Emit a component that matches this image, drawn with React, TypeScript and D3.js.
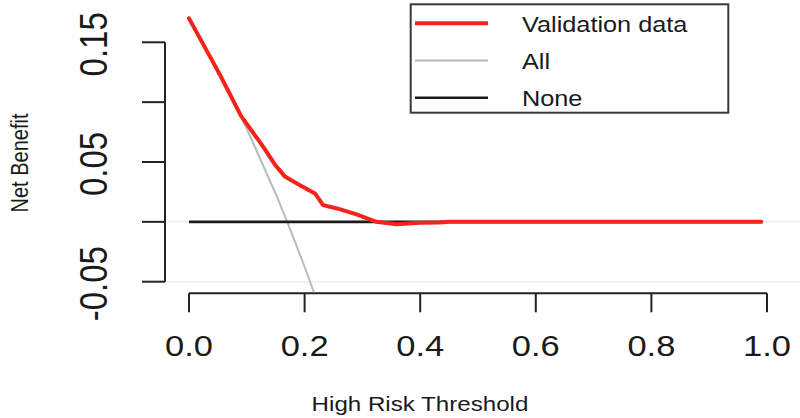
import React from "react";
import * as d3 from "d3";

const thresholds = [0, 0.054, 0.09, 0.1285, 0.149, 0.166, 0.192, 0.218, 0.232, 0.256, 0.29, 0.324, 0.359, 0.4, 0.434, 0.45, 0.99];
const validationNB = [0.17, 0.1225, 0.0885, 0.0627, 0.0476, 0.0378, 0.0306, 0.0237, 0.014, 0.0112, 0.0062, 0.0, -0.002, -0.0008, -0.0005, 0.0, 0.0];

const allThresholds = [0, 0.05, 0.1, 0.15, 0.17, 0.2, 0.22, 0.25];
const allNB = [0.17, 0.126, 0.0778, 0.0235, 0.0, -0.0375, -0.064, -0.107];

const noneThresholds = [0, 0.99];
const noneNB = [0, 0];

const xTicks = [0, 0.2, 0.4, 0.6, 0.8, 1.0];
const xTickLabels = ["0.0", "0.2", "0.4", "0.6", "0.8", "1.0"];
const yTicks = [-0.05, 0, 0.05, 0.1, 0.15];
const yLabelValues = [-0.05, 0.05, 0.15];
const yLabelTexts = ["-0.05", "0.05", "0.15"];

const legendNames = ["Validation data", "All", "None"];
const legendColors = ["#f5231b", "#b4bcc0", "#1a1a1a"];
const legendWidths = [4, 2, 2.6];

const FONT = "'Liberation Sans', Arial, Helvetica, sans-serif";
const SX = 1.15;

export default function App() {
  const x = d3.scaleLinear().domain([0, 1]).range([189, 767]);
  const y = d3.scaleLinear().domain([-0.05, 0.15]).range([281.7, 42.3]);

  const line = d3
    .line<[number, number]>()
    .x((d) => x(d[0]))
    .y((d) => y(d[1]));

  const redPts = thresholds.map((t, i) => [t, validationNB[i]] as [number, number]);
  const allPts = allThresholds.map((t, i) => [t, allNB[i]] as [number, number]);
  const nonePts = noneThresholds.map((t, i) => [t, noneNB[i]] as [number, number]);

  const axisY = 293.3;
  const axisX = 165;

  return (
    <svg
      width={800}
      height={418}
      style={{ position: "absolute", left: 0, top: 0, background: "#fff" }}
      fontFamily={FONT}
    >
      <defs>
        <clipPath id="plotclip">
          <rect x={166} y={0} width={634} height={axisY - 1} />
        </clipPath>
      </defs>
      <rect x={0} y={0} width={800} height={418} fill="#fff" />

      {/* faint reference lines */}
      <line x1={axisX} x2={800} y1={y(0)} y2={y(0)} stroke="#ebebeb" strokeWidth={1.5} />
      <line x1={axisX} x2={800} y1={y(-0.05)} y2={y(-0.05)} stroke="#efefef" strokeWidth={1.5} />

      {/* y axis */}
      <line x1={axisX} x2={axisX} y1={y(0.15)} y2={y(-0.05)} stroke="#222" strokeWidth={2} />
      {yTicks.map((v) => (
        <line key={v} x1={axisX - 23} x2={axisX} y1={y(v)} y2={y(v)} stroke="#222" strokeWidth={2} />
      ))}
      {yLabelValues.map((v, i) => (
        <g key={v} transform={`translate(107,${y(v) + 2}) scale(${SX},1) rotate(-90)`}>
          <text x={0} y={0} textAnchor="middle" fontSize={33} fill="#1a1a1a">
            {yLabelTexts[i]}
          </text>
        </g>
      ))}
      <g transform={`translate(28,163) scale(${SX},1) rotate(-90)`}>
        <text x={0} y={0} textAnchor="middle" fontSize={20} fill="#1a1a1a">
          Net Benefit
        </text>
      </g>

      {/* x axis */}
      <line x1={x(0)} x2={x(1)} y1={axisY} y2={axisY} stroke="#222" strokeWidth={2} />
      {xTicks.map((v) => (
        <line key={v} x1={x(v)} x2={x(v)} y1={axisY} y2={axisY + 19} stroke="#222" strokeWidth={2} />
      ))}
      {xTicks.map((v, i) => (
        <g key={v} transform={`translate(${x(v)},356) scale(${SX},1)`}>
          <text x={0} y={0} textAnchor="middle" fontSize={30} fill="#1a1a1a">
            {xTickLabels[i]}
          </text>
        </g>
      ))}
      <g transform={`translate(420,411) scale(${SX},1)`}>
        <text x={0} y={0} textAnchor="middle" fontSize={21} fill="#1a1a1a">
          High Risk Threshold
        </text>
      </g>

      {/* curves */}
      <g clipPath="url(#plotclip)">
        <path d={line(allPts) || ""} fill="none" stroke={legendColors[1]} strokeWidth={legendWidths[1]} />
        <path d={line(nonePts) || ""} fill="none" stroke={legendColors[2]} strokeWidth={legendWidths[2]} />
        <path
          d={line(redPts) || ""}
          fill="none"
          stroke={legendColors[0]}
          strokeWidth={legendWidths[0]}
          strokeLinejoin="round"
          strokeLinecap="round"
        />
      </g>

      {/* legend */}
      <rect x={410.7} y={4.3} width={317.6} height={108.4} fill="#fff" stroke="#3a3a3a" strokeWidth={2} />
      {legendNames.map((name, i) => {
        const ly = 23.3 + i * 37.2;
        return (
          <g key={name}>
            <line x1={415} x2={488} y1={ly} y2={ly} stroke={legendColors[i]} strokeWidth={legendWidths[i]} />
            <g transform={`translate(522,${ly + 8.5}) scale(${SX},1)`}>
              <text x={0} y={0} fontSize={22} fill="#1a1a1a">
                {name}
              </text>
            </g>
          </g>
        );
      })}
    </svg>
  );
}
